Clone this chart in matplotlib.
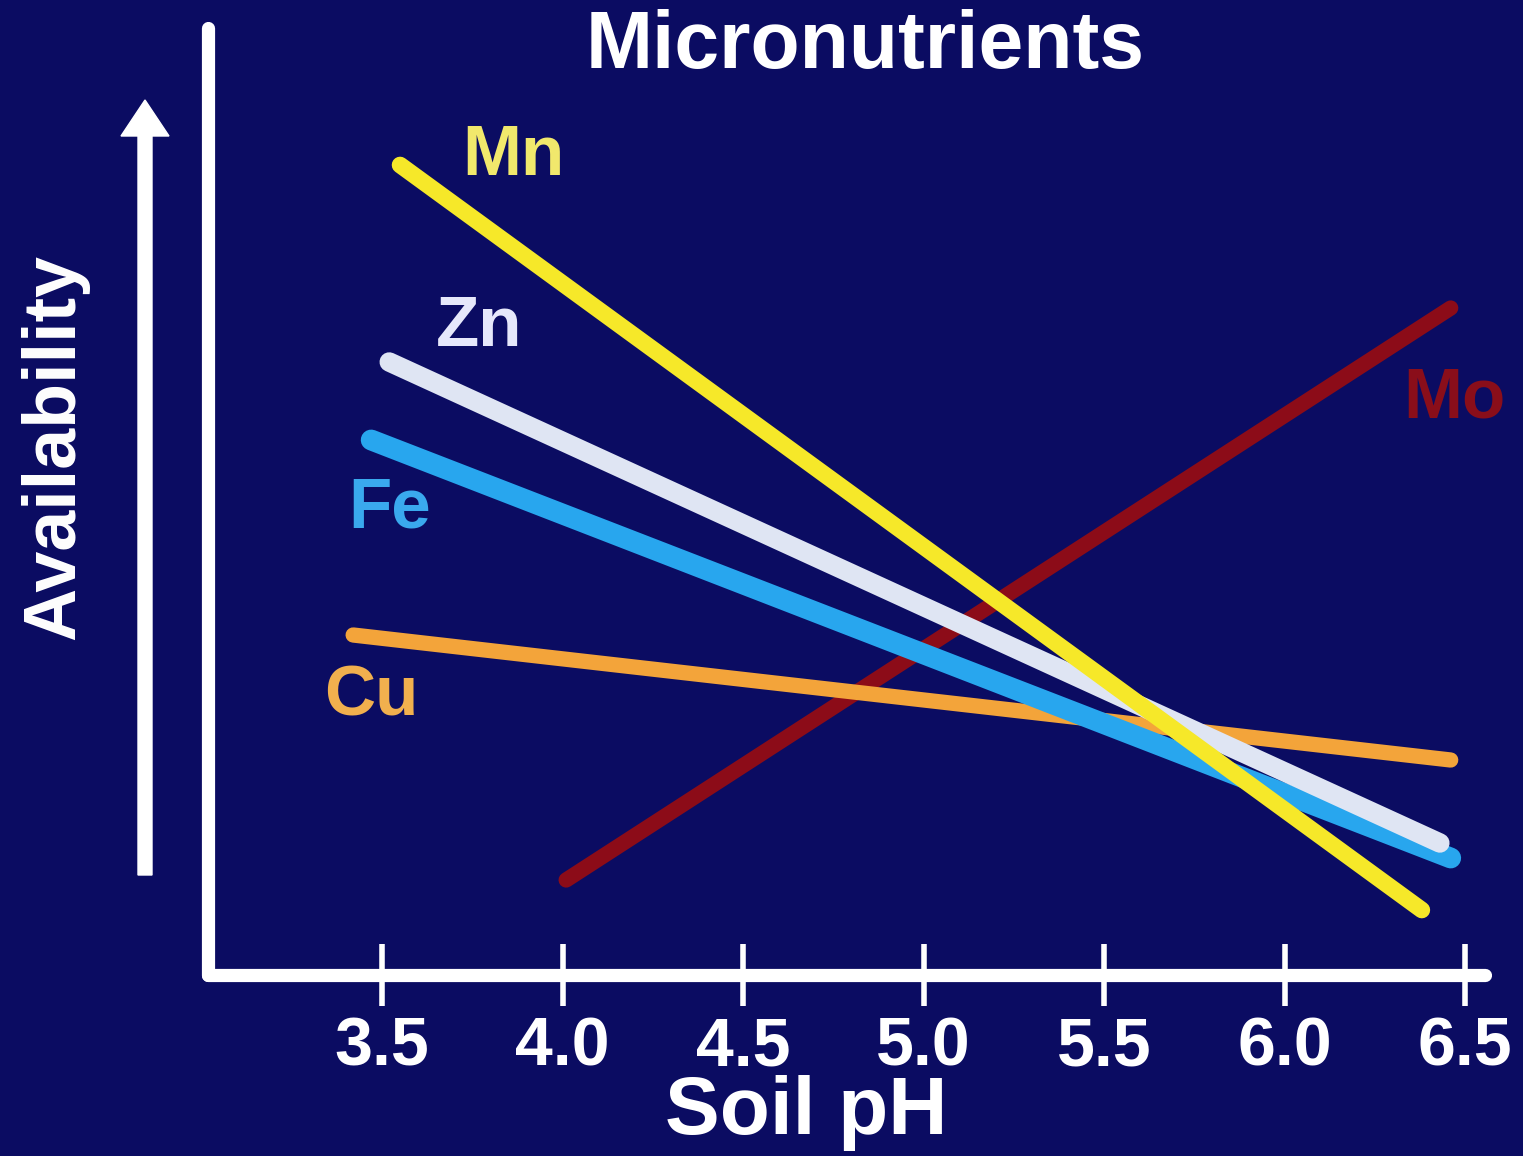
import matplotlib.pyplot as plt
from matplotlib.patches import FancyArrow

# availability trends of the micronutrients against soil pH (relative units)
elements = ['Mn', 'Zn', 'Fe', 'Cu', 'Mo']
ph_low = [3.55, 3.52, 3.47, 3.42, 4.01]
ph_high = [6.38, 6.43, 6.46, 6.46, 6.46]
avail_low = [81.0, 61.3, 53.5, 34.0, 9.5]
avail_high = [6.5, 13.2, 11.7, 21.5, 66.7]

ph_ticks = [3.5, 4.0, 4.5, 5.0, 5.5, 6.0, 6.5]
ph_ticklabels = ['3.5', '4.0', '4.5', '5.0', '5.5', '6.0', '6.5']

bg = '#0b0c62'
line_colors = ['#f6e829', '#dfe5f3', '#28a6ee', '#f3a43a', '#8c0c18']
text_colors = ['#f1e86c', '#e6e8fb', '#3aa9ee', '#f1b04e', '#8a0e1a']
line_widths = [12, 14, 15, 11, 11]
layer = [7, 6, 5, 4, 3]  # Mn drawn on top, Mo underneath
label_pos = [(3.865, 81.8), (3.77, 64.7), (3.52, 46.5), (3.47, 27.8), (6.47, 57.6)]

plt.rcParams['font.family'] = ['Liberation Sans', 'DejaVu Sans']

fig = plt.figure(figsize=(15.23, 11.56), dpi=100, facecolor=bg)
ax = fig.add_axes([208 / 1523, 1 - 975 / 1156, 1277 / 1523, 947 / 1156])
ax.set_facecolor(bg)

for i in range(len(elements)):
    ax.plot([ph_low[i], ph_high[i]], [avail_low[i], avail_high[i]],
            color=line_colors[i], linewidth=line_widths[i],
            solid_capstyle='round', zorder=layer[i])
    ax.text(label_pos[i][0], label_pos[i][1], elements[i], color=text_colors[i],
            fontsize=51, fontweight='bold', ha='center', va='center')

ax.set_xlim(3.018, 6.555)
ax.set_ylim(0, 94.7)

for s in ['top', 'right']:
    ax.spines[s].set_visible(False)
for s in ['left', 'bottom']:
    ax.spines[s].set_color('white')
    ax.spines[s].set_linewidth(9.5)
    ax.spines[s].set_capstyle('round')

ax.set_xticks(ph_ticks)
ax.set_xticklabels(ph_ticklabels)
ax.set_yticks([])
ax.tick_params(axis='x', direction='inout', length=45, width=4, color='white',
               labelcolor='white', labelsize=49, pad=7)
for lb in ax.get_xticklabels():
    lb.set_fontweight('bold')

fig.text(865 / 1523, 1 - 47 / 1156, 'Micronutrients', color='white',
         fontsize=58, fontweight='bold', ha='center', va='center')
fig.text(806 / 1523, 1 - 1113 / 1156, 'Soil pH', color='white',
         fontsize=59, fontweight='bold', ha='center', va='center')
fig.text(55 / 1523, 1 - 447 / 1156, 'Availability', color='white',
         fontsize=53, fontweight='bold', ha='center', va='center', rotation=90)

# upward arrow beside the y axis
arrow = FancyArrow(1.45, 2.81, 0, 10.56 - 2.81, width=0.14, head_width=0.48,
                   head_length=0.36, length_includes_head=True,
                   color='white', transform=fig.dpi_scale_trans)
fig.add_artist(arrow)

fig.savefig('out.png', dpi=100, facecolor=bg)
